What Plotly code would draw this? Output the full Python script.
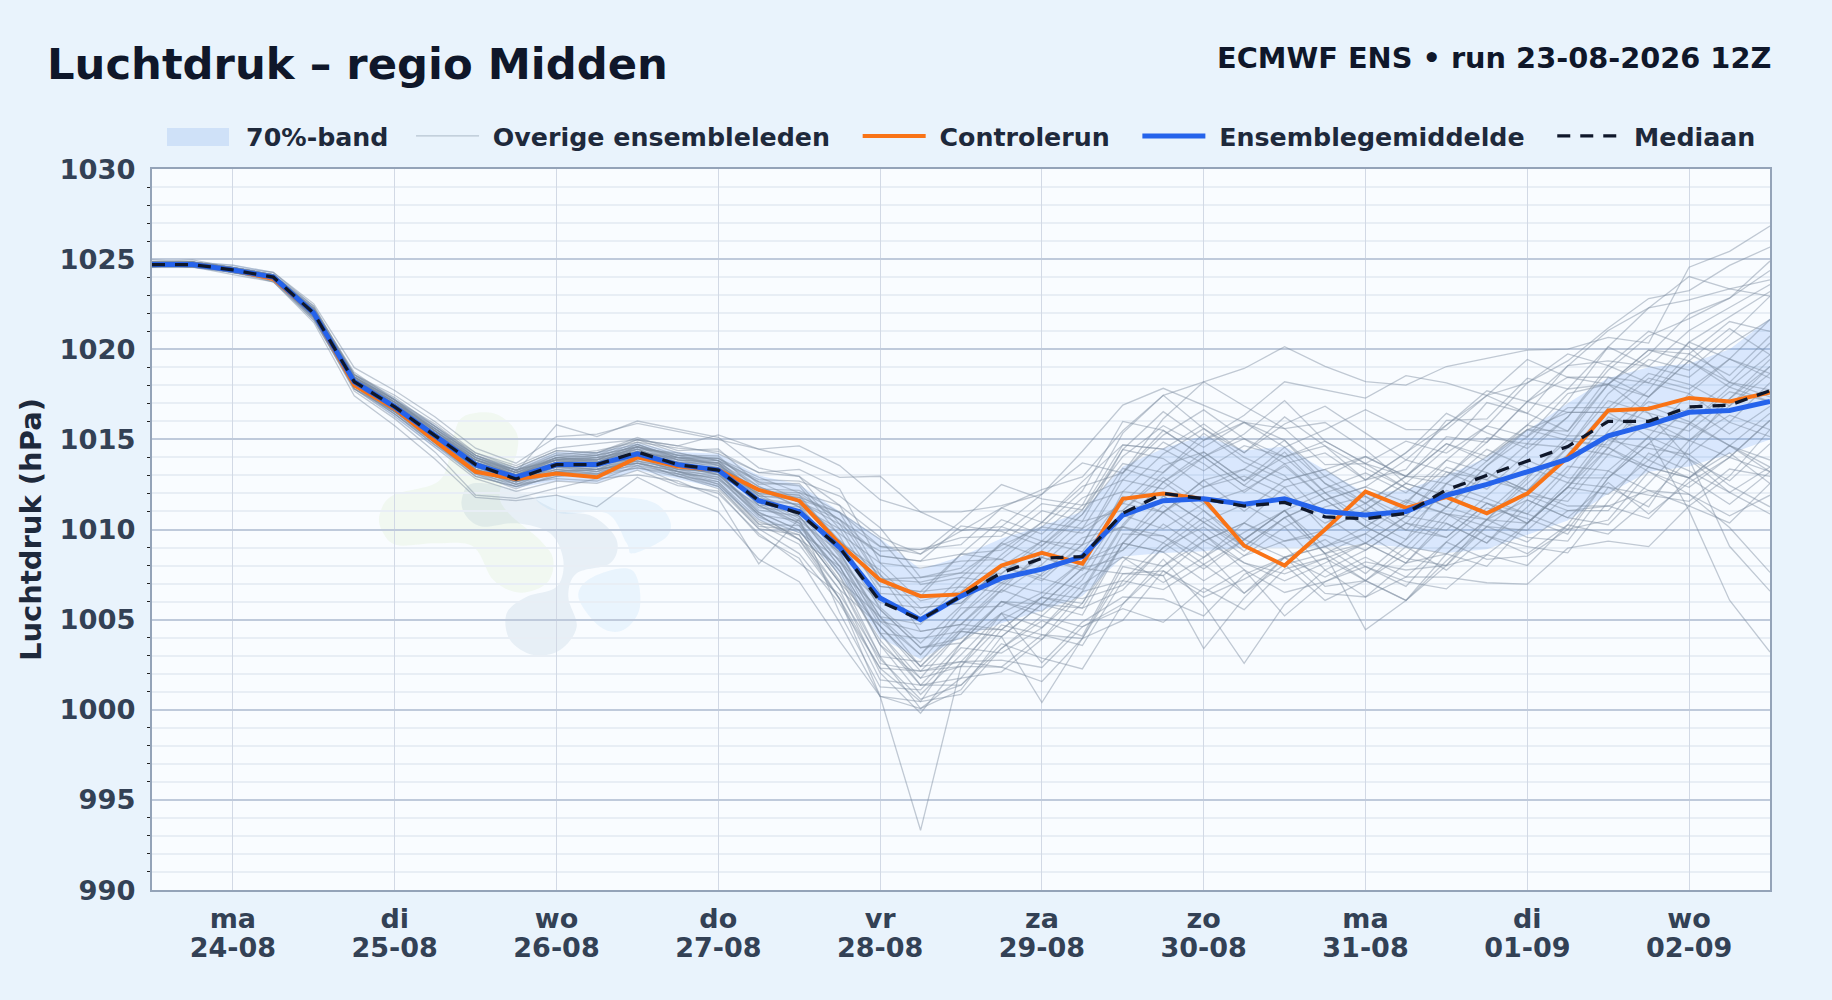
import pandas as pd
import plotly.graph_objects as go

day_names = ["ma","di","wo","do","vr","za","zo","ma","di","wo"]
day_dates = ["24-08","25-08","26-08","27-08","28-08","29-08","30-08","31-08","01-09","02-09"]
day_ticks = ["2026-08-24","2026-08-25","2026-08-26","2026-08-27","2026-08-28","2026-08-29","2026-08-30","2026-08-31","2026-09-01","2026-09-02"]
times = pd.date_range("2026-08-23 12:00", "2026-09-02 12:00", freq="6h")

ens_mean = [1024.7,1024.7,1024.4,1024.0,1022.0,1018.2,1016.8,1015.2,1013.6,1012.9,1013.6,1013.6,1014.2,1013.6,1013.3,1011.6,1011.0,1009.0,1006.2,1005.0,1006.3,1007.3,1007.8,1008.5,1010.8,1011.6,1011.7,1011.4,1011.7,1011.0,1010.8,1011.0,1011.9,1012.5,1013.2,1013.9,1015.2,1015.8,1016.5,1016.6,1017.1]
control = [1024.7,1024.7,1024.4,1023.9,1022.0,1018.0,1016.7,1014.9,1013.2,1012.8,1013.1,1012.9,1014.0,1013.5,1013.3,1012.2,1011.6,1009.2,1007.2,1006.3,1006.4,1008.0,1008.7,1008.1,1011.7,1012.0,1011.7,1009.1,1008.0,1010.0,1012.1,1011.2,1011.8,1010.9,1012.0,1014.0,1016.6,1016.7,1017.3,1017.1,1017.6]
median = [1024.7,1024.7,1024.4,1024.0,1022.0,1018.2,1016.8,1015.2,1013.6,1012.8,1013.6,1013.6,1014.3,1013.6,1013.3,1011.6,1010.9,1009.0,1006.0,1005.0,1006.3,1007.6,1008.4,1008.5,1010.9,1012.0,1011.7,1011.3,1011.5,1010.7,1010.6,1010.9,1012.2,1013.0,1013.8,1014.6,1016.0,1016.0,1016.8,1016.9,1017.7]
band_hi = [1024.9,1024.9,1024.7,1024.3,1022.4,1018.6,1017.3,1015.8,1014.1,1013.4,1014.3,1014.3,1014.8,1014.3,1014.2,1013.0,1012.5,1011.0,1009.5,1007.8,1008.5,1009.5,1010.2,1011.0,1013.5,1014.5,1015.2,1014.4,1014.6,1013.3,1012.0,1012.2,1013.0,1014.0,1015.5,1017.0,1018.4,1019.0,1019.2,1020.0,1021.7]
band_lo = [1024.5,1024.5,1024.2,1023.8,1021.6,1017.8,1016.2,1014.5,1013.0,1012.3,1012.7,1012.6,1013.3,1012.8,1012.3,1010.5,1009.8,1007.5,1004.0,1002.8,1004.0,1004.8,1005.5,1006.3,1008.5,1008.7,1008.8,1009.0,1009.0,1009.0,1009.2,1009.0,1008.7,1008.9,1009.7,1010.5,1012.0,1013.2,1013.5,1014.2,1015.0]

# ensemble members: departure from the ensemble mean, read in grid units of 1/7.7 hPa
DEV_UNITS_PER_HPA = 7.7
m01 = [1,1,2,2,3,2,3,2,3,2,17,12,14,15,14,14,15,18,26,28,28,30,34,34,36,45,50,58,65,62,57,54,55,54,52,47,42,35,62,68,75]
m02 = [0,-1,-1,-2,-3,-2,-3,-4,-3,-4,-5,-3,-5,-4,-6,-10,-14,-22,-42,-90,-30,-15,-40,-28,-35,-42,-50,-30,-25,-35,-35,-28,-20,-32,-36,-30,-36,-20,-35,-45,-40]
m03 = [1,0,-1,0,-1,-3,-2,-3,-5,-4,-3,-5,-4,-5,-8,-12,-18,-24,-30,-22,-15,-25,-57,-35,-45,-30,-40,-28,-50,-30,-20,-25,-30,-15,-12,-25,-20,-38,-30,-20,-30]
m04 = [2,1,1,2,4,6,7,8,7,6,12,13,13,14,13,22,28,35,42,46,28,22,32,45,47,48,40,35,30,20,22,15,25,18,30,35,22,30,42,48,60]
m05 = [-1,-1,-2,-2,-4,-6,-8,-10,-14,-10,-13,-18,-10,-14,-18,-25,-30,-40,-42,-38,-40,-25,-15,-5,-25,-30,-42,-32,-25,-15,-8,-20,-30,-18,-10,-22,-30,-28,-35,-50,-73]
m06 = [0,1,0,-1,0,1,-1,-2,-2,-1,-3,-2,-4,-3,-6,-9,-10,-22,-30,-35,-20,-15,-10,-18,-30,-20,-12,-22,-18,-10,-15,-5,5,12,18,20,10,-5,-42,-81,-107]
m07 = [1,1,0,1,1,2,3,2,1,0,1,2,0,3,5,6,4,12,8,16,10,14,18,10,5,15,20,10,18,30,22,10,-5,8,15,28,22,5,-20,-58,-81]
m08 = [0,0,1,1,2,1,2,4,5,4,6,5,6,8,7,12,15,10,18,25,18,12,20,32,30,22,12,25,18,8,15,25,30,38,38,42,46,54,52,62,66]
m09 = [1,2,1,0,2,4,3,5,4,3,2,4,3,1,3,2,6,15,22,28,32,40,30,22,35,45,30,22,35,28,15,18,32,28,40,30,38,50,58,52,45]
m10 = [-1,0,-1,-1,-2,-1,-2,-3,-4,-3,-6,-7,-5,-8,-10,-14,-22,-20,-26,-34,-38,-30,-22,-34,-20,-10,-22,-38,-28,-18,-49,-38,-30,-30,-22,-12,-5,-18,-28,-15,-25]
m11 = [0,1,1,0,1,2,1,1,2,1,3,2,4,2,1,5,2,8,20,30,25,18,28,20,25,32,22,35,25,12,5,15,22,10,18,12,25,18,30,22,10]
m12 = [0,0,-1,-1,-1,-3,-2,-1,-2,-1,-2,-4,-1,-3,-2,-5,-8,-15,-12,-20,-28,-18,-12,-20,-8,-15,-25,-12,-5,-18,-12,-22,-10,5,-10,-18,-8,2,-12,-20,-8]
m13 = [1,1,1,1,3,3,5,6,5,5,7,9,6,8,15,22,22,30,52,46,36,31,32,40,18,35,50,42,30,38,28,12,20,35,25,40,32,25,15,28,35]
m14 = [-1,-1,0,-2,-2,-4,-5,-7,-13,-9,-10,-6,-9,-7,-12,-27,-3,-28,-38,-30,-22,-32,-25,-12,-18,-35,-25,-8,-20,-32,-28,-15,-32,-22,-35,-28,-42,-32,-20,-35,-28]
m15 = [0,0,0,1,0,-1,0,1,0,-1,0,1,2,0,-2,-3,0,-6,-10,-15,-8,-2,5,-6,2,10,-2,6,14,5,-5,4,12,2,-8,5,15,5,-5,10,20]
m16 = [1,0,1,1,1,0,-1,0,1,0,-1,0,-2,1,0,3,6,3,5,12,4,-6,2,12,5,-5,8,15,5,-8,2,12,0,-12,-2,8,-5,12,22,12,5]
m17 = [-1,0,0,0,-1,0,-1,-1,-2,-2,-1,-3,-2,-3,-4,-2,-6,-10,-20,-25,-30,-20,-28,-35,-25,-32,-18,-25,-32,-20,-12,-22,-25,-15,-28,-35,-22,-30,-38,-25,-32]
m18 = [0,1,1,0,2,1,2,3,3,2,4,3,2,5,4,8,11,5,-5,-12,-18,-10,-15,-5,10,2,-10,-18,-8,5,12,4,-8,-15,-22,-12,-2,-10,-18,-5,8]
m19 = [0,-1,0,-1,-1,-2,-1,-2,-1,-2,-3,-1,-3,-2,-3,-6,-4,-12,-25,-38,-35,-40,-30,-15,-5,-15,-28,-15,-5,-15,-25,-12,5,-6,-18,-5,8,-2,-12,2,15]
m20 = [1,1,0,0,1,2,2,1,2,3,2,3,5,4,6,4,8,18,10,-5,-12,-5,8,18,22,12,28,18,8,18,25,15,8,20,12,5,18,28,18,32,45]
m21 = [0,0,-1,0,-2,-2,-3,-3,-4,-5,-4,-5,-6,-4,-7,-12,-10,-18,-32,-40,-28,-35,-42,-30,-40,-52,-38,-45,-30,-20,-28,-38,-28,-18,-30,-22,-32,-18,-28,-40,-30]
m22 = [1,0,0,1,0,1,1,2,2,1,3,1,3,2,3,-2,-5,-12,-18,-28,-20,-10,-18,-8,-15,-5,5,12,2,-5,5,15,22,12,20,30,22,32,25,38,30]
m23 = [-1,-1,-1,0,0,-1,0,-1,0,0,-1,1,0,-1,1,5,2,-4,-12,-20,-14,-22,-12,-2,-12,-22,-10,0,-12,2,8,-5,-15,-5,5,-8,-18,-8,2,-10,-2]
m24 = [0,1,0,1,1,3,2,3,4,3,5,4,6,5,4,9,13,22,30,18,12,22,12,5,-5,8,18,8,-2,10,18,8,15,25,15,22,12,2,-8,5,18]
m25 = [1,0,0,-1,-1,-1,-2,-1,-3,-2,-4,-2,-4,-3,-5,-8,-12,-8,-20,-32,-25,-15,-25,-15,-28,-18,-5,-18,-28,-38,-28,-18,-8,-22,-32,-40,-28,-12,-25,-35,-48]
m26 = [0,0,1,0,1,0,1,0,1,1,1,2,1,3,2,0,3,6,15,8,2,10,20,12,20,8,-5,-15,-5,8,-2,-12,-5,8,18,8,-4,8,-4,-15,-5]
m27 = [0,-1,0,0,0,-2,-1,-2,-2,-3,-2,-3,-1,-4,-3,-7,-9,-5,-15,-28,-35,-22,-12,-22,-12,-22,-35,-22,-12,-25,-15,-5,-18,-8,-22,-10,-22,-35,-15,5,15]
m28 = [1,1,1,1,2,2,3,4,3,3,4,6,5,7,8,12,18,25,15,22,15,8,-3,5,15,25,15,5,15,25,15,25,35,22,10,18,30,18,8,-5,-15]
m29 = [0,0,-1,-1,-3,-3,-4,-5,-6,-6,-7,-8,-7,-9,-9,-15,-20,-32,-42,-35,-42,-30,-20,-30,-38,-28,-15,-28,-40,-30,-22,-32,-20,-10,-20,-32,-18,-8,-20,-30,-18]
m30 = [1,0,1,0,1,1,2,1,1,2,2,1,3,3,3,6,4,10,5,12,18,25,15,25,15,5,18,28,18,28,20,10,-5,5,-8,2,12,22,12,2,12]
m31 = [-1,0,0,0,-1,1,0,0,-1,0,0,-1,1,-1,-2,1,3,-3,-8,-15,-5,-12,-2,8,-5,-18,-30,-15,-5,-18,-28,-38,-25,-35,-22,-12,-25,-15,-28,-15,-30]
m32 = [0,1,1,1,2,3,4,4,4,4,6,5,7,6,9,7,12,8,2,10,18,8,18,28,40,30,18,30,42,30,22,30,18,25,38,45,30,40,28,12,25]
m33 = [0,0,0,-1,-1,-1,-1,-2,-1,-1,-2,0,-2,-1,-2,-4,-2,-8,-15,-8,-15,-25,-15,-22,-32,-20,-8,-18,-8,5,-5,-15,-5,-15,-3,10,0,-15,-5,8,0]
m34 = [1,1,0,0,0,0,1,-1,0,1,0,-1,0,1,-1,-5,-8,-15,-25,-18,-8,2,12,2,8,-5,-18,-8,5,15,25,15,5,15,2,-10,2,15,30,40,47]
m35 = [0,-1,-1,-1,-2,-1,-2,-3,-2,-3,-3,-4,-3,-5,-5,-10,-6,-14,-8,-20,-12,-22,-30,-20,-12,-2,-15,-25,-35,-22,-12,-2,-12,-25,-12,-25,-38,-25,-12,-2,-12]
m36 = [1,1,1,0,1,1,0,1,2,2,1,3,2,1,2,4,7,2,12,5,-3,5,12,22,10,20,30,20,10,-2,-12,-2,10,2,12,25,38,25,35,44,50]
m37 = [-1,-1,0,0,0,-1,1,0,-1,-1,1,0,-1,0,1,-1,-5,-10,-5,-12,-20,-10,-20,-10,0,-12,-2,-15,-25,-15,-5,5,-8,-18,-25,-15,-5,-20,-32,-20,-8]
m38 = [0,0,0,0,1,2,1,2,2,2,3,4,3,4,5,10,8,12,22,30,22,30,20,30,18,28,38,28,15,5,12,22,30,40,30,40,45,50,48,52,52]
m39 = [0,0,-1,0,-1,-1,-1,0,-1,-2,-1,-2,-3,-2,-1,-6,-12,-18,-12,-22,-30,-38,-28,-38,-28,-38,-28,-38,-25,-12,-22,-30,-40,-30,-40,-28,-15,-28,-40,-28,-12]
m40 = [1,0,1,1,0,1,1,1,0,1,2,0,1,2,3,1,-3,3,10,2,8,-2,-10,-2,-15,-5,8,-3,8,18,8,-2,8,18,30,20,10,20,10,22,35]
m41 = [0,1,0,0,1,0,0,1,1,0,1,1,2,0,1,-2,2,-2,-8,-2,5,15,5,15,28,18,5,15,25,15,5,-8,-18,-8,-18,-30,-18,-5,8,22,12]
m42 = [-1,0,-1,-1,-1,-2,-2,-2,-3,-2,-3,-2,-4,-3,-4,-6,-12,-22,-35,-28,-38,-28,-38,-48,-38,-25,-45,-68,-45,-25,-35,-22,-12,-25,-15,-3,-15,-5,-18,-32,-45]
m43 = [1,1,1,1,1,3,3,3,4,2,3,5,4,3,5,8,5,15,25,15,8,15,25,15,2,12,25,35,22,35,45,35,28,38,25,12,22,32,22,10,0]
m44 = [0,0,0,0,0,-1,0,-1,0,-1,0,-2,-1,-2,0,3,-2,-8,-15,-25,-15,-5,-15,-25,-12,2,-10,-20,-8,-18,-8,3,15,5,-8,-20,-30,-40,-28,-18,-35]
m45 = [0,0,1,1,1,2,1,3,2,1,2,3,1,2,4,2,-2,-6,-2,5,-3,5,-5,5,18,30,18,8,20,8,-5,-15,-25,-15,-5,5,-8,-18,-5,-15,-28]
m46 = [0,-1,0,-1,-2,-3,-3,-4,-5,-4,-5,-4,-6,-5,-7,-11,-8,-15,-28,-22,-28,-38,-48,-35,-22,-32,-64,-40,-25,-28,-18,-28,-35,-42,-48,-38,-45,-52,-40,-48,-35]
m47 = [1,0,0,0,1,1,2,2,1,1,2,2,3,4,2,5,9,15,8,18,10,2,10,20,30,22,32,22,32,45,35,22,10,-2,8,18,28,38,40,48,56]
m48 = [0,0,0,-1,0,-1,-1,0,0,-1,-1,-2,0,-2,-1,0,-4,-2,-10,-5,-12,-3,5,-5,-18,-28,-18,-8,-18,-8,2,12,0,10,20,10,22,12,25,15,28]
m49 = [-1,0,0,0,0,0,-1,-1,-1,0,-1,1,-1,1,0,2,5,0,-4,-10,-4,5,-4,-14,-4,8,20,10,22,12,2,-8,2,-8,-22,-12,0,10,0,12,2]
m50 = [0,1,1,1,1,2,2,2,3,3,3,2,4,3,4,3,7,12,18,25,30,20,10,18,28,38,25,38,50,52,50,58,48,38,48,35,25,12,22,35,20]
members = [m01,m02,m03,m04,m05,m06,m07,m08,m09,m10,m11,m12,m13,m14,m15,m16,m17,m18,m19,m20,m21,m22,m23,m24,m25,m26,m27,m28,m29,m30,m31,m32,m33,m34,m35,m36,m37,m38,m39,m40,m41,m42,m43,m44,m45,m46,m47,m48,m49,m50]

FONT = "DejaVu Sans"
DARK = "#0f172a"
TICK = "#334155"
NB = "\u00a0"
TAIL = NB + NB + "\u2009"
fig = go.Figure()

x_list = list(times)
fig.add_trace(go.Scatter(x=x_list + x_list[::-1], y=band_hi + band_lo[::-1], mode="lines", fill="toself",
                         fillcolor="rgba(59,130,246,0.17)", line=dict(width=0, color="rgba(0,0,0,0)"),
                         showlegend=False, hoverinfo="skip"))
# legend entry of the band: its swatch is the rectangle drawn among the shapes
fig.add_trace(go.Scatter(x=[None], y=[None], mode="lines", line=dict(width=0, color="rgba(0,0,0,0)"),
                         name=NB + "\u2009\u200a70%-band" + NB + NB))
for k, dev in enumerate(members):
    fig.add_trace(go.Scatter(x=times, y=[a + d / DEV_UNITS_PER_HPA for a, d in zip(ens_mean, dev)], mode="lines",
                             line=dict(color="rgba(125,140,160,0.46)", width=1.3), name=NB + "Overige ensembleleden" + TAIL,
                             legendgroup="members", showlegend=k == 0, hoverinfo="skip"))
fig.add_trace(go.Scatter(x=times, y=control, mode="lines", line=dict(color="#f97316", width=4), name=NB + "Controlerun" + TAIL))
fig.add_trace(go.Scatter(x=times, y=ens_mean, mode="lines", line=dict(color="#2563eb", width=5), name=NB + "Ensemblegemiddelde" + TAIL))
fig.add_trace(go.Scatter(x=times, y=median, mode="lines", line=dict(color="#0f172a", width=3.3, dash="13px,10px"), name=NB + "Mediaan"))

# faint logo watermark behind the chart
L, R, T, B = 152, 1770, 169, 890
def blob(pts, ox=360, oy=400, s=3):
    p = [((ox + a / s - L) / (R - L), 1 - (oy + b / s - T) / (B - T)) for a, b in pts]
    n = len(p)
    d = f"M{p[0][0]:.4f},{p[0][1]:.4f}"
    for i in range(n):
        p0, p1, p2, p3 = p[i - 1], p[i], p[(i + 1) % n], p[(i + 2) % n]
        c1 = (p1[0] + (p2[0] - p0[0]) / 6, p1[1] + (p2[1] - p0[1]) / 6)
        c2 = (p2[0] - (p3[0] - p1[0]) / 6, p2[1] - (p3[1] - p1[1]) / 6)
        d += f" C{c1[0]:.4f},{c1[1]:.4f} {c2[0]:.4f},{c2[1]:.4f} {p2[0]:.4f},{p2[1]:.4f}"
    return d + " Z"
logo = [
    ([(60,340),(100,285),(240,240),(280,110),(310,50),(400,40),(465,90),(470,160),(420,300),(540,420),(580,480),(560,550),(480,578),(400,540),(340,440),(230,430),(110,435),(65,390)], "rgba(195,225,150,0.13)"),
    ([(305,300),(340,250),(470,270),(590,330),(700,350),(770,420),(750,490),(650,520),(625,590),(650,680),(600,750),(520,765),(450,720),(440,640),(500,590),(590,560),(610,480),(570,400),(470,370),(370,380),(320,350)], "rgba(90,135,175,0.11)"),
    ([(530,290),(600,340),(740,340),(800,430),(820,460),(920,410),(925,350),(860,300),(700,290)], "rgba(120,190,240,0.12)"),
    ([(655,590),(700,530),(815,510),(840,620),(790,690),(720,680)], "rgba(120,190,240,0.12)"),
]
shapes = [dict(type="path", xref="paper", yref="paper", path=blob(p), fillcolor=c, line=dict(width=0), layer="below") for p, c in logo]
shapes.append(dict(type="rect", xref="paper", yref="paper", x0=(167 - L) / (R - L), x1=(229 - L) / (R - L),
                   y0=1 + (T - 146) / (B - T), y1=1 + (T - 128) / (B - T), fillcolor="#cfe1f8", line=dict(width=0), layer="above"))

tick_text = [f'<span style="font-size:27px"><b>{n}</b></span><br><span style="font-size:27px"><b>{d}</b></span>' for n, d in zip(day_names, day_dates)]

fig.update_layout(
    width=1832, height=1000, autosize=False,
    margin=dict(l=L, r=1832 - R, t=T, b=1000 - B, pad=0),
    paper_bgcolor="#e9f3fc", plot_bgcolor="#f9fcff",
    font=dict(family=FONT, color=TICK),
    showlegend=True, shapes=shapes, hovermode=False,
    title=dict(text="<b>Luchtdruk – regio Midden</b>", x=47 / 1832, xanchor="left", y=1 - 64 / 1000, yanchor="middle",
               font=dict(size=43.3, color=DARK, family=FONT)),
    annotations=[dict(text="<b>ECMWF ENS • run 23-08-2026 12Z</b>", xref="paper", yref="paper", x=1, xanchor="right", xshift=3,
                      y=1 + 111 / 721, yanchor="middle", showarrow=False, font=dict(size=28.8, color=DARK, family=FONT))],
    legend=dict(orientation="h", x=1 - 9.3 / 1618, xanchor="right", y=1 + 33 / 721, yanchor="middle", itemwidth=63,
                font=dict(size=25.3, color="#1e293b", family=FONT, weight="bold"), bgcolor="rgba(0,0,0,0)",
                traceorder="normal", itemclick=False, itemdoubleclick=False),
    xaxis=dict(type="date", range=[times[0], times[-1]], tickmode="array", tickvals=day_ticks, ticktext=tick_text,
               tickfont=dict(size=22.5, color=TICK, family=FONT), ticks="", showgrid=True, gridcolor="#d2d9e5", gridwidth=1,
               showline=True, linecolor="#94a3b8", linewidth=2, mirror=True, ticklabelstandoff=9, zeroline=False),
    yaxis=dict(range=[990, 1030], tickmode="array", tickvals=list(range(990, 1031, 5)), ticks="",
               tickfont=dict(size=27.3, color=TICK, family=FONT, weight="bold"), showgrid=True, gridcolor="#bfcadb", gridwidth=2,
               minor=dict(tickmode="array", tickvals=[v for v in range(990, 1031) if v % 5], showgrid=True, gridcolor="#e8eef5", gridwidth=2,
                          ticks="outside", ticklen=3, tickcolor="#222", tickwidth=1),
               showline=True, linecolor="#94a3b8", linewidth=2, mirror=True, zeroline=False, ticklabelstandoff=9,
               title=dict(text="<b>Luchtdruk (hPa)</b>", font=dict(size=29, color="#1e293b", family=FONT), standoff=9)),
)
fig.write_html("out.html", post_script="document.body.style.margin='0';", config=dict(displayModeBar=False))
